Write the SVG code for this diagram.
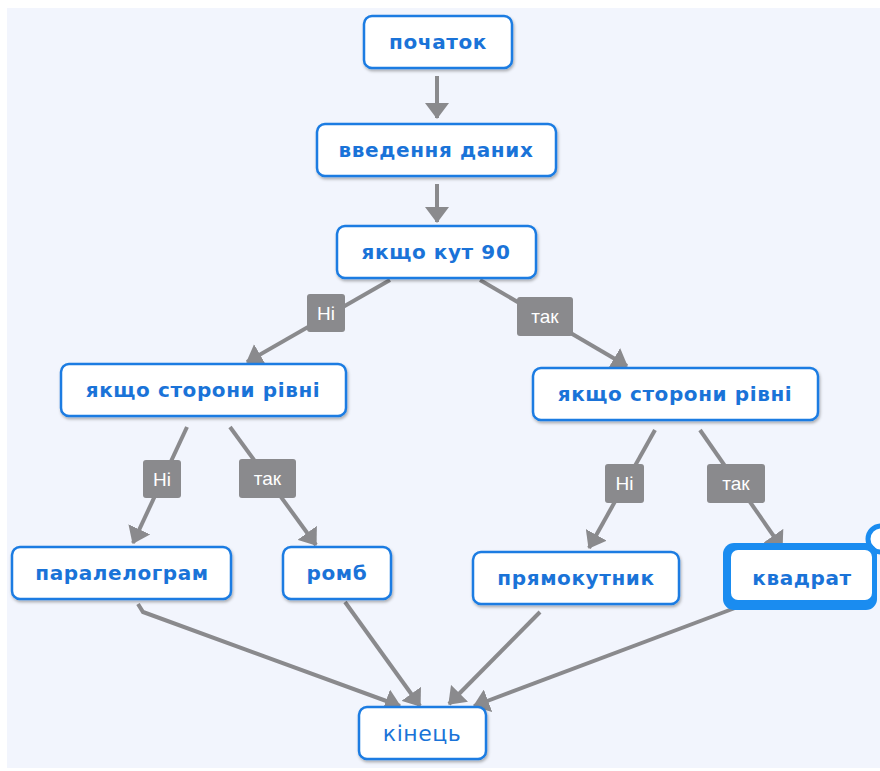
<svg xmlns="http://www.w3.org/2000/svg" width="880" height="771" viewBox="0 0 880 771">
<defs>
<style>
.node{fill:#ffffff;stroke:#1a7be2;stroke-width:2.5}
.t{font-family:"DejaVu Sans",Verdana,sans-serif;font-weight:bold;font-size:20px;letter-spacing:0.6px;fill:#1a73d8;text-anchor:middle}
.c{fill:none;stroke:#8a8a8d;stroke-width:4}
.lb{fill:#8a8a8d}
.lt{font-family:"Liberation Sans",Arial,sans-serif;font-size:19px;fill:#ffffff;text-anchor:middle}
</style>
<marker id="ah" markerUnits="userSpaceOnUse" viewBox="0 0 16 24" refX="15" refY="12" markerWidth="16" markerHeight="24" orient="auto">
<path d="M0,0 L16,12 L0,24 Z" fill="#8a8a8d"/>
</marker>
<filter id="sh" x="-10%" y="-20%" width="120%" height="150%">
<feDropShadow dx="1" dy="2" stdDeviation="1.5" flood-color="#000" flood-opacity="0.3"/>
</filter>
</defs>
<rect x="0" y="0" width="880" height="771" fill="#ffffff"/>
<rect x="7" y="8" width="873" height="760" fill="#f2f5fd"/>

<g id="connectors">
<line class="c" x1="437" y1="76" x2="437" y2="118" marker-end="url(#ah)"/>
<line class="c" x1="437" y1="184" x2="437" y2="222" marker-end="url(#ah)"/>
<line class="c" x1="390" y1="280" x2="247" y2="362" marker-end="url(#ah)"/>
<line class="c" x1="480" y1="280" x2="627" y2="366" marker-end="url(#ah)"/>
<line class="c" x1="187" y1="427" x2="133" y2="543" marker-end="url(#ah)"/>
<line class="c" x1="230" y1="427" x2="316" y2="545" marker-end="url(#ah)"/>
<line class="c" x1="655" y1="430" x2="589" y2="548" marker-end="url(#ah)"/>
<line class="c" x1="700" y1="430" x2="782" y2="548" marker-end="url(#ah)"/>
<polyline class="c" points="138,604 143,612 400,706" marker-end="url(#ah)"/>
<line class="c" x1="345" y1="602" x2="420" y2="706" marker-end="url(#ah)"/>
<line class="c" x1="540" y1="612" x2="449" y2="704" marker-end="url(#ah)"/>
<line class="c" x1="735" y1="608" x2="474" y2="706" marker-end="url(#ah)"/>
<g id="labels">
<rect class="lb" x="307" y="294" width="38" height="38" rx="3"/>
<text class="lt" x="326" y="320">Ні</text>
<rect class="lb" x="517" y="297" width="56" height="39" rx="3"/>
<text class="lt" x="545" y="323">так</text>
<rect class="lb" x="143" y="460" width="38" height="38" rx="3"/>
<text class="lt" x="162" y="486">Ні</text>
<rect class="lb" x="239" y="459" width="57" height="39" rx="3"/>
<text class="lt" x="267.5" y="485">так</text>
<rect class="lb" x="605" y="464" width="39" height="39" rx="3"/>
<text class="lt" x="624.5" y="490">Ні</text>
<rect class="lb" x="707" y="464" width="58" height="39" rx="3"/>
<text class="lt" x="736" y="490">так</text>
</g>
</g>

<g id="n-start">
<rect class="node" filter="url(#sh)" x="364" y="16" width="148" height="52" rx="8"/>
<text class="t" x="438" y="49">початок</text>
</g>
<g id="n-input">
<rect class="node" filter="url(#sh)" x="317" y="124" width="239" height="52" rx="8"/>
<text class="t" x="436" y="157">введення даних</text>
</g>
<g id="n-angle">
<rect class="node" filter="url(#sh)" x="337" y="226" width="199" height="52" rx="8"/>
<text class="t" x="436" y="259">якщо кут 90</text>
</g>
<g id="n-sides-left">
<rect class="node" filter="url(#sh)" x="61" y="364" width="285" height="52" rx="8"/>
<text class="t" x="203" y="397">якщо сторони рівні</text>
</g>
<g id="n-sides-right">
<rect class="node" filter="url(#sh)" x="533" y="368" width="285" height="52" rx="8"/>
<text class="t" x="675" y="401">якщо сторони рівні</text>
</g>
<g id="n-parallelogram">
<rect class="node" filter="url(#sh)" x="12" y="547" width="219" height="52" rx="8"/>
<text class="t" x="122" y="580">паралелограм</text>
</g>
<g id="n-rhombus">
<rect class="node" filter="url(#sh)" x="283" y="547" width="108" height="52" rx="8"/>
<text class="t" x="337" y="580">ромб</text>
</g>
<g id="n-rectangle">
<rect class="node" filter="url(#sh)" x="473" y="552" width="206" height="52" rx="8"/>
<text class="t" x="576" y="585">прямокутник</text>
</g>
<g id="n-square">
<circle cx="881" cy="539" r="13" fill="#ffffff" stroke="#1a8cf0" stroke-width="5"/>
<rect x="723" y="543" width="154" height="67" rx="11" fill="#1a8cf0"/>
<rect x="731" y="550" width="141" height="50" rx="7" fill="#ffffff"/>
<path d="M796,600 L802,594 L808,600 Z" fill="#ffffff"/>
<text class="t" x="802" y="585">квадрат</text>
</g>
<g id="n-end">
<rect class="node" filter="url(#sh)" x="359" y="707" width="127" height="52" rx="8"/>
<text class="t" x="422" y="741" style="font-weight:normal;font-size:22px;letter-spacing:0.5px">кінець</text>
</g>
</svg>
